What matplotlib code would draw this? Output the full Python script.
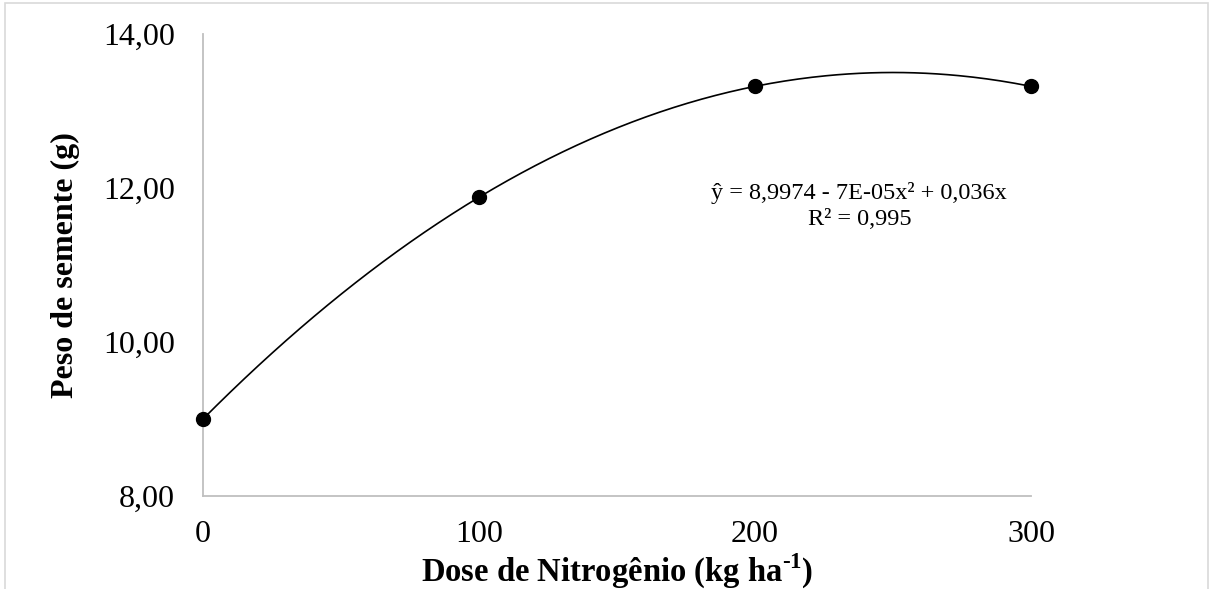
import numpy as np
import matplotlib
matplotlib.use("Agg")
import matplotlib.pyplot as plt
from matplotlib.patches import Rectangle

# dados
doses = [0, 100, 200, 300]
peso = [9.00, 11.88, 13.32, 13.32]
y_ticks = [8, 10, 12, 14]
y_labels = ["8,00", "10,00", "12,00", "14,00"]
x_ticks = [0, 100, 200, 300]
x_labels = ["0", "100", "200", "300"]
equacao = "ŷ = 8,9974 - 7E-05x² + 0,036x"
r2 = "R² = 0,995"

plt.rcParams["font.family"] = ["Liberation Serif", "DejaVu Serif"]
plt.rcParams["mathtext.fontset"] = "custom"
plt.rcParams["mathtext.rm"] = "Liberation Serif:bold"
plt.rcParams["mathtext.bf"] = "Liberation Serif:bold"

fig = plt.figure(figsize=(12.11, 5.89), dpi=100)
W, H = 1211, 589
ax = fig.add_axes([203 / W, 1 - 496 / H, 828 / W, 462 / H])

# borda da área do gráfico
fig.patches.append(Rectangle((5 / W, -0.05), 1203 / W, 1.05 - 3 / H,
                             transform=fig.transFigure, fill=False,
                             edgecolor="#d9d9d9", linewidth=1.2))

# linha de tendência polinomial (2ª ordem)
coef = np.polyfit(doses, peso, 2)
xs = np.linspace(0, 300, 300)
ax.plot(xs, np.polyval(coef, xs), color="black", linewidth=1.2, zorder=2)
ax.plot(doses, peso, "o", color="black", markersize=10, zorder=3,
        clip_on=False)

ax.set_xlim(0, 300)
ax.set_ylim(8, 14)
ax.set_xticks(x_ticks)
ax.set_xticklabels(x_labels)
ax.set_yticks(y_ticks)
ax.set_yticklabels(y_labels)
ax.tick_params(axis="both", length=0, labelsize=23)
ax.tick_params(axis="y", pad=20)
ax.tick_params(axis="x", pad=17)

for s in ["top", "right"]:
    ax.spines[s].set_visible(False)
for s in ["left", "bottom"]:
    ax.spines[s].set_color("#bfbfbf")
    ax.spines[s].set_linewidth(1.3)

ax.set_ylabel("Peso de semente (g)", fontsize=23, fontweight="bold")
ax.yaxis.set_label_coords((80 - 203) / 828, 0.5)
ax.set_xlabel("Dose de Nitrogênio (kg ha$^{\\mathbf{\u2010}\\mathbf{1}}$)",
              fontsize=23.5, fontweight="bold")
ax.xaxis.set_label_coords(0.5, (496 - 571) / 462)
ax.xaxis.label.set_va("center")

ax.text(237.8, 11.94, equacao, fontsize=17.5, ha="center", va="center")
ax.text(237.8, 11.59, r2, fontsize=17.5, ha="center", va="center")

fig.savefig("out.png", dpi=100)
